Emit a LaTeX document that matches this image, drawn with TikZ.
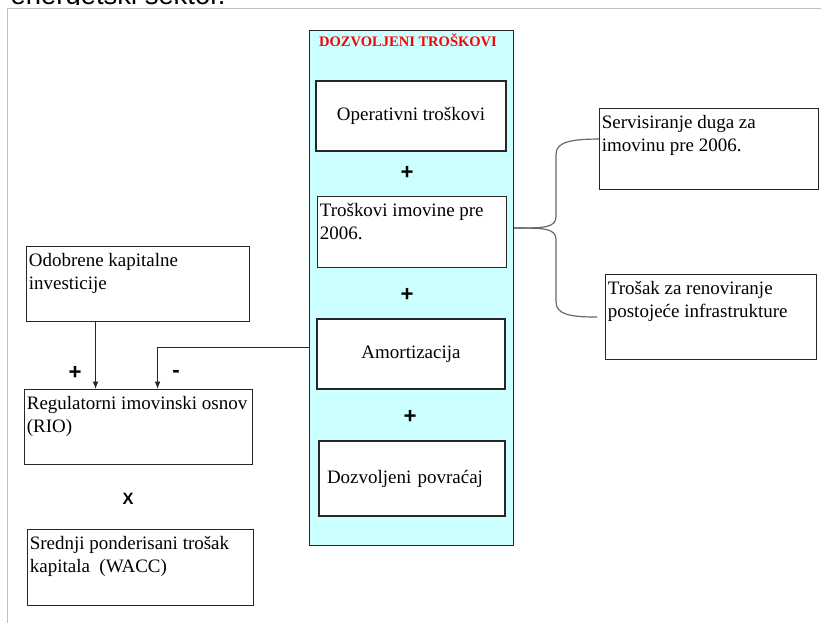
\documentclass[tikz,border=0pt]{standalone}
\usepackage{fontspec}
\setmainfont{Liberation Serif}
\newfontfamily\arialfont{Liberation Sans}
\usepackage{tikz}
\usetikzlibrary{arrows.meta}
\definecolor{allowfill}{HTML}{CCFFFF}

\begin{document}
\begin{tikzpicture}[x=0.03cm, y=-0.03cm,
    box/.style={draw=black!85, line width=0.9pt, fill=white, anchor=north west,
        inner xsep=2pt, inner ysep=4pt, font=\fontsize{16.2}{19.2}\selectfont},
    cbox/.style={draw=black!85, line width=0.9pt, fill=white, inner sep=0pt,
        font=\fontsize{16.2}{19.2}\selectfont},
    sign/.style={font=\arialfont\bfseries\fontsize{19}{19}\selectfont},
    link/.style={black!85, line width=0.8pt},
    arr/.style={link, -{Latex[length=0.22cm, width=0.17cm]}}]
    \clip (0,0) rectangle (821,622);
    % heading, cut off at the top
    \begin{scope}
        \clip (0,0) rectangle (821,4.5);
        \node[anchor=base west, inner sep=0pt, font=\arialfont\fontsize{23.4}{28}\selectfont] (head) at (10.5,4.5) {energetski sektor.};
    \end{scope}
    \draw[black!25, line width=0.8pt] (7,640) -- (7,8) -- (840,8);

    % dozvoljeni troskovi
    \node[draw=black!85, line width=0.9pt, fill=allowfill, anchor=north west, inner sep=0pt,
        minimum width=6.12cm, minimum height=15.45cm] (dozv) at (309,30) {};
    \node[anchor=base, text=red, font=\bfseries\fontsize{12.4}{14}\selectfont] (title) at (408,46.5) {DOZVOLJENI TROŠKOVI};
    \node[cbox, minimum width=5.7cm, minimum height=2.1cm] (oper) at (411,116) {Operativni troškovi};
    \node[sign] (plus1) at (407,173) {+};
    \node[box] (tim) at (317,196) {\parbox[t][1.85cm][t]{5.53cm}{\strut Troškovi imovine pre\\2006.}};
    \node[sign] (plus2) at (407,295) {+};
    \node[cbox, minimum width=5.64cm, minimum height=2.1cm] (amort) at (411,354) {Amortizacija};
    \node[sign] (plus3) at (410,417) {+};
    \node[cbox, minimum width=5.58cm, minimum height=2.25cm, text width=5.1cm, align=left] (povr) at (412,478.5) {Dozvoljeni povraćaj};

    % imovina pre 2006.
    \node[box] (serv) at (599,108) {\parbox[t][2.15cm][t]{6.43cm}{\strut Servisiranje duga za\\imovinu pre 2006.}};
    \node[box] (tros) at (605,274) {\parbox[t][2.27cm][t]{6.19cm}{\strut Trošak za renoviranje\\postojeće infrastrukture}};
    \path (dozv.east |- tim.east) ++(0,-4) coordinate (tip);
    \coordinate (servin) at ([yshift=0.3cm]serv.west);
    \coordinate (trosin) at ([xshift=-0.24cm]tros.west);
    \draw[black!60, line width=1pt] (tip) .. controls +(30,0) and +(0,12) .. ++(42,-12)
        -- ++(0,-62) .. controls +(0,-12) and +(-28,0) .. (servin);
    \draw[black!60, line width=1pt] (tip) .. controls +(30,0) and +(0,-12) .. ++(42,12)
        -- ++(0,62) .. controls +(0,12) and +(-28,0) .. (trosin);

    % RIO x WACC
    \node[box] (odob) at (26,246) {\parbox[t][1.97cm][t]{6.55cm}{\strut Odobrene kapitalne\\investicije}};
    \node[box] (rio) at (24,389) {\parbox[t][1.97cm][t]{6.70cm}{\strut Regulatorni imovinski osnov\\(RIO)}};
    \node[box] (wacc) at (27,529) {\parbox[t][2.0cm][t]{6.64cm}{\strut Srednji ponderisani trošak\\kapitala~ (WACC)}};
    \node[sign] (plus4) at (75,373) {+};
    \node[sign] (minus) at (176,374) {-};
    \node[font=\arialfont\bfseries\fontsize{14}{14}\selectfont] (times) at (128,499) {X};

    \coordinate (capin) at ([xshift=-1.275cm]odob.south);
    \draw[arr] (capin) -- (capin |- rio.north);
    \path (dozv.west |- amort.west) ++(0,-7) coordinate (amin);
    \coordinate (rioin) at ([xshift=0.57cm]rio.north);
    \draw[arr] (amin) -| (rioin);
\end{tikzpicture}
\end{document}
